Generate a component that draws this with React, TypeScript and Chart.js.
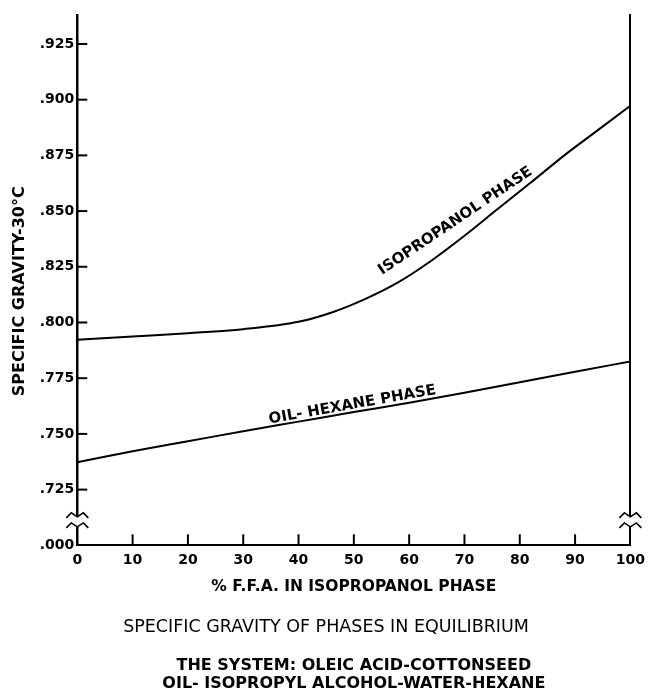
import React, { useEffect, useRef } from 'react';
import { Chart, registerables } from 'chart.js';

Chart.register(...registerables);

// ---- data ----
const xTickValues = [0, 10, 20, 30, 40, 50, 60, 70, 80, 90, 100];
const yTickValues = [0.7, 0.725, 0.75, 0.775, 0.8, 0.825, 0.85, 0.875, 0.9, 0.925];
const yTickLabels = ['.000', '.725', '.750', '.775', '.800', '.825', '.850', '.875', '.900', '.925'];

const isoX = [0, 10, 20, 30, 40, 46, 52, 58, 64, 70, 76, 82, 88, 94, 100];
const isoY = [0.7922, 0.7937, 0.7952, 0.797, 0.8003, 0.8045, 0.8105, 0.818, 0.8277, 0.8389, 0.8509, 0.8628, 0.8749, 0.8861, 0.8973];

const hexX = [0, 10, 20, 30, 40, 50, 60, 70, 80, 90, 100];
const hexY = [0.7373, 0.7422, 0.7467, 0.7512, 0.7555, 0.7598, 0.764, 0.7685, 0.7732, 0.7779, 0.7825];

const curveLabelTexts = ['ISOPROPANOL PHASE', 'OIL- HEXANE PHASE'];
const curveLabelX = [68.76, 49.86];
const curveLabelY = [0.8441, 0.7613];
const curveLabelAngle = [-33.9, -10.1];

const xTitle = '% F.F.A. IN ISOPROPANOL PHASE';
const yTitle = 'SPECIFIC GRAVITY-30°C    ';
const mainTitle = 'SPECIFIC GRAVITY OF PHASES IN EQUILIBRIUM';
const subTitleLines = ['THE SYSTEM: OLEIC ACID-COTTONSEED', 'OIL- ISOPROPYL ALCOHOL-WATER-HEXANE'];

const Y_MIN = 0.7;
const Y_MAX = 0.938;
const BREAK_VALUE = 0.7105;

const FONT = "'DejaVu Sans', 'Liberation Sans', sans-serif";

const decorPlugin = {
  id: 'decor',
  beforeDraw(chart: any) {
    const { ctx, width, height } = chart;
    ctx.save();
    ctx.fillStyle = '#fff';
    ctx.fillRect(0, 0, width, height);
    ctx.restore();
  },
  afterDraw(chart: any) {
    const { ctx, chartArea, scales } = chart;
    const xs = scales.x;
    const ys = scales.y;
    const line = (x1: number, y1: number, x2: number, y2: number) => {
      ctx.beginPath();
      ctx.moveTo(x1, y1);
      ctx.lineTo(x2, y2);
      ctx.stroke();
    };
    ctx.save();
    ctx.strokeStyle = '#000';
    ctx.lineWidth = 2;
    // inward tick marks
    yTickValues.forEach((v) => {
      if (v <= Y_MIN) return;
      const py = ys.getPixelForValue(v);
      line(chartArea.left, py, chartArea.left + 10, py);
    });
    xTickValues.forEach((v) => {
      if (v === xTickValues[0] || v === xTickValues[xTickValues.length - 1]) return;
      const px = xs.getPixelForValue(v);
      line(px, chartArea.bottom, px, chartArea.bottom - 11);
    });
    // axis breaks
    const c = ys.getPixelForValue(BREAK_VALUE);
    [chartArea.left, chartArea.right].forEach((ax: number) => {
      ctx.fillStyle = '#fff';
      ctx.fillRect(ax - 3, c - 5, 6, 10);
      ctx.lineWidth = 1.6;
      [c - 5, c + 5].forEach((vy) => {
        ctx.beginPath();
        ctx.moveTo(ax - 11, vy + 1);
        ctx.lineTo(ax - 6, vy - 4);
        ctx.lineTo(ax, vy);
        ctx.lineTo(ax + 6, vy - 4);
        ctx.lineTo(ax + 11, vy + 1);
        ctx.stroke();
      });
    });
    // curve labels
    ctx.fillStyle = '#000';
    ctx.font = `bold 15px ${FONT}`;
    ctx.textAlign = 'center';
    ctx.textBaseline = 'alphabetic';
    curveLabelTexts.forEach((t, i) => {
      const px = xs.getPixelForValue(curveLabelX[i]);
      const py = ys.getPixelForValue(curveLabelY[i]);
      ctx.save();
      ctx.translate(px, py);
      ctx.rotate((curveLabelAngle[i] * Math.PI) / 180);
      ctx.fillText(t, 0, 0);
      ctx.restore();
    });
    ctx.restore();
  },
};

export default function App() {
  const ref = useRef<HTMLCanvasElement | null>(null);

  useEffect(() => {
    document.body.style.margin = '0';
    const canvas = ref.current;
    if (!canvas) return;
    const chart = new Chart(canvas, {
      type: 'line',
      data: {
        datasets: [
          {
            label: 'Isopropanol phase',
            data: isoX.map((x, i) => ({ x, y: isoY[i] })),
            borderColor: '#000',
            borderWidth: 2,
            pointRadius: 0,
            fill: false,
            cubicInterpolationMode: 'monotone',
          },
          {
            label: 'Oil-hexane phase',
            data: hexX.map((x, i) => ({ x, y: hexY[i] })),
            borderColor: '#000',
            borderWidth: 2,
            pointRadius: 0,
            fill: false,
            cubicInterpolationMode: 'monotone',
          },
        ],
      },
      options: {
        animation: false,
        responsive: false,
        devicePixelRatio: 1,
        layout: { padding: { top: 15, left: 0, right: 0, bottom: 0 } },
        plugins: {
          legend: { display: false },
          tooltip: { enabled: false },
          title: {
            display: true,
            text: mainTitle,
            position: 'bottom',
            weight: 1000,
            fullSize: true,
            color: '#000',
            font: { family: FONT, size: 17.5, weight: 'normal', lineHeight: 1.2 },
            padding: { top: 20.2, bottom: 8 },
          },
          subtitle: {
            display: true,
            text: subTitleLines,
            position: 'bottom',
            weight: 1500,
            fullSize: false,
            color: '#000',
            font: { family: FONT, size: 16, weight: 'bold', lineHeight: 1.125 },
            padding: { top: 11.5, bottom: 0 },
          },
        },
        scales: {
          x: {
            type: 'linear',
            min: 0,
            max: 100,
            afterBuildTicks: (scale: any) => {
              scale.ticks = xTickValues.map((v) => ({ value: v }));
            },
            afterFit: (scale: any) => {
              scale.height = 51;
            },
            ticks: {
              autoSkip: false,
              maxRotation: 0,
              padding: 7,
              color: '#000',
              font: { family: FONT, size: 14, weight: 'bold' },
              callback: (v: any) => String(v),
            },
            grid: { drawOnChartArea: false, drawTicks: false },
            border: { display: true, color: '#000', width: 2 },
            title: {
              display: true,
              text: xTitle,
              color: '#000',
              font: { family: FONT, size: 15.5, weight: 'bold', lineHeight: 1.2 },
              padding: { top: 0, bottom: 0 },
            },
          },
          y: {
            type: 'linear',
            min: Y_MIN,
            max: Y_MAX,
            afterBuildTicks: (scale: any) => {
              scale.ticks = yTickValues.map((v) => ({ value: v }));
            },
            afterFit: (scale: any) => {
              scale.width = 77.3;
            },
            ticks: {
              autoSkip: false,
              padding: 3,
              color: '#000',
              font: { family: FONT, size: 14, weight: 'bold' },
              callback: (v: any) => {
                const idx = yTickValues.findIndex((t) => Math.abs(t - Number(v)) < 1e-6);
                return idx >= 0 ? yTickLabels[idx] : '';
              },
            },
            grid: { drawOnChartArea: false, drawTicks: false },
            border: { display: true, color: '#000', width: 2.5 },
            title: {
              display: true,
              text: yTitle,
              color: '#000',
              font: { family: FONT, size: 16, weight: 'bold', lineHeight: 1.2 },
              padding: { top: 10.4, bottom: 0 },
            },
          },
          y2: {
            type: 'linear',
            position: 'right',
            display: true,
            min: Y_MIN,
            max: Y_MAX,
            afterFit: (scale: any) => {
              scale.width = 17.7;
            },
            ticks: { display: false },
            grid: { drawOnChartArea: false, drawTicks: false },
            border: { display: true, color: '#000', width: 2 },
          },
        },
      },
      plugins: [decorPlugin],
    } as any);
    return () => chart.destroy();
  }, []);

  return (
    <div style={{ width: 652, height: 693, background: '#fff' }}>
      <canvas ref={ref} width={652} height={693} style={{ display: 'block' }} />
    </div>
  );
}
